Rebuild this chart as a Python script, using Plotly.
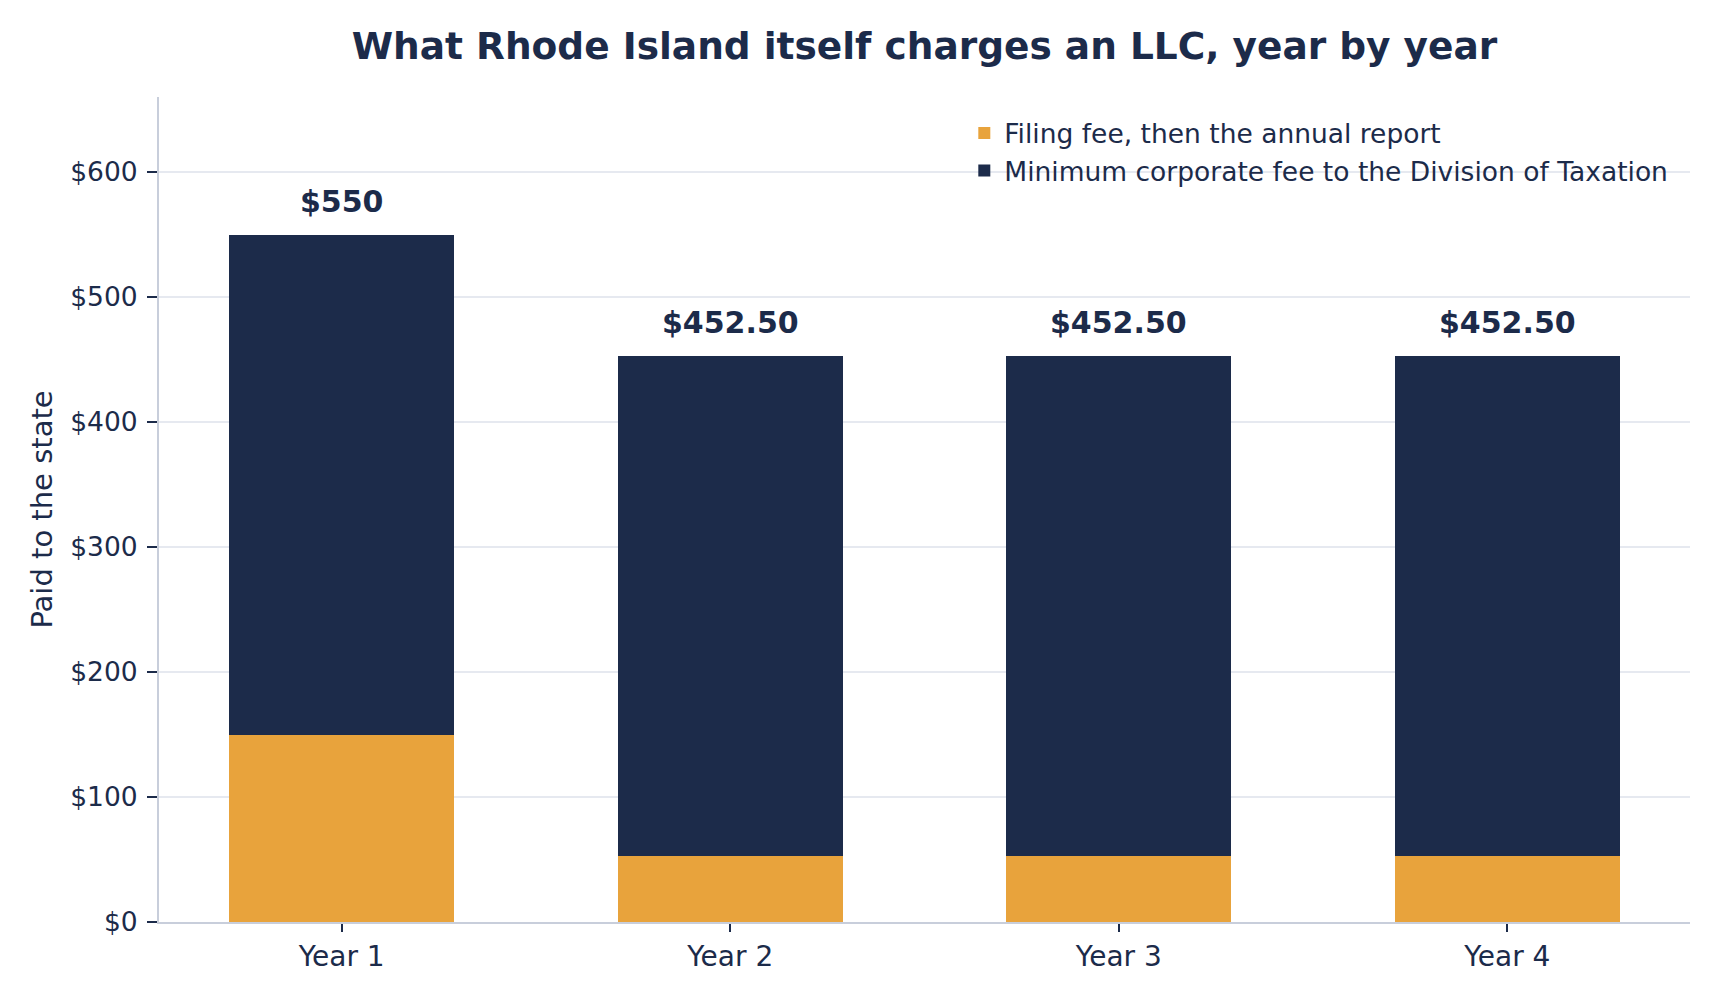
import plotly.graph_objects as go

years = ["Year 1", "Year 2", "Year 3", "Year 4"]
filing_fee = [150, 52.50, 52.50, 52.50]
min_corp_fee = [400, 400, 400, 400]
totals = [f + m for f, m in zip(filing_fee, min_corp_fee)]
total_labels = ["$550", "$452.50", "$452.50", "$452.50"]
y_ticks = [0, 100, 200, 300, 400, 500, 600]
y_tick_labels = ["$0", "$100", "$200", "$300", "$400", "$500", "$600"]

NAVY = "#1c2b4a"
ORANGE = "#e8a33c"
FONT = "DejaVu Sans"

fig = go.Figure()
fig.add_trace(go.Bar(
    x=years, y=filing_fee, name="Filing fee, then the annual report",
    marker=dict(color=ORANGE, line=dict(width=0)), width=0.58,
))
fig.add_trace(go.Bar(
    x=years, y=min_corp_fee, name="Minimum corporate fee to the Division of Taxation",
    marker=dict(color=NAVY, line=dict(width=0)), width=0.58,
))

for yr, tot, lab in zip(years, totals, total_labels):
    fig.add_annotation(
        x=yr, y=tot, text=f"<b>{lab}</b>", showarrow=False,
        yanchor="bottom", yshift=14,
        font=dict(family=FONT, size=30, color=NAVY),
    )

fig.update_layout(
    width=1720, height=1000,
    barmode="stack",
    paper_bgcolor="white", plot_bgcolor="white",
    margin=dict(l=151, r=38, t=89, b=86),
    font=dict(family=FONT, size=28, color=NAVY),
    title=dict(
        text="<b>What Rhode Island itself charges an LLC, year by year</b>",
        x=0.5, xref="paper", xanchor="center",
        y=0.962, yref="container", yanchor="middle",
        font=dict(family=FONT, size=37.5, color=NAVY),
    ),
    legend=dict(
        x=0.526, y=0.985, xanchor="left", yanchor="top",
        traceorder="normal", bgcolor="rgba(0,0,0,0)",
        font=dict(family=FONT, size=26.5, color=NAVY),
    ),
    bargap=0.42,
)
fig.update_xaxes(
    range=[-0.47, 3.47],
    showline=True, linecolor="#c8cedb", linewidth=2,
    ticks="outside", ticklen=8, tickwidth=2, tickcolor=NAVY,
    showgrid=False, zeroline=False,
    tickfont=dict(family=FONT, size=28, color=NAVY),
)
fig.update_yaxes(
    range=[0, 660],
    tickmode="array", tickvals=y_ticks, ticktext=y_tick_labels,
    showline=True, linecolor="#c8cedb", linewidth=2,
    ticks="outside", ticklen=10, tickwidth=2, tickcolor=NAVY,
    ticklabelstandoff=4,
    showgrid=True, gridcolor="#e6e9f0", gridwidth=2,
    zeroline=False,
    tickfont=dict(family=FONT, size=26.5, color=NAVY),
    title=dict(text="Paid to the state", font=dict(family=FONT, size=29, color=NAVY), standoff=9),
)

fig.write_html("out.html")
